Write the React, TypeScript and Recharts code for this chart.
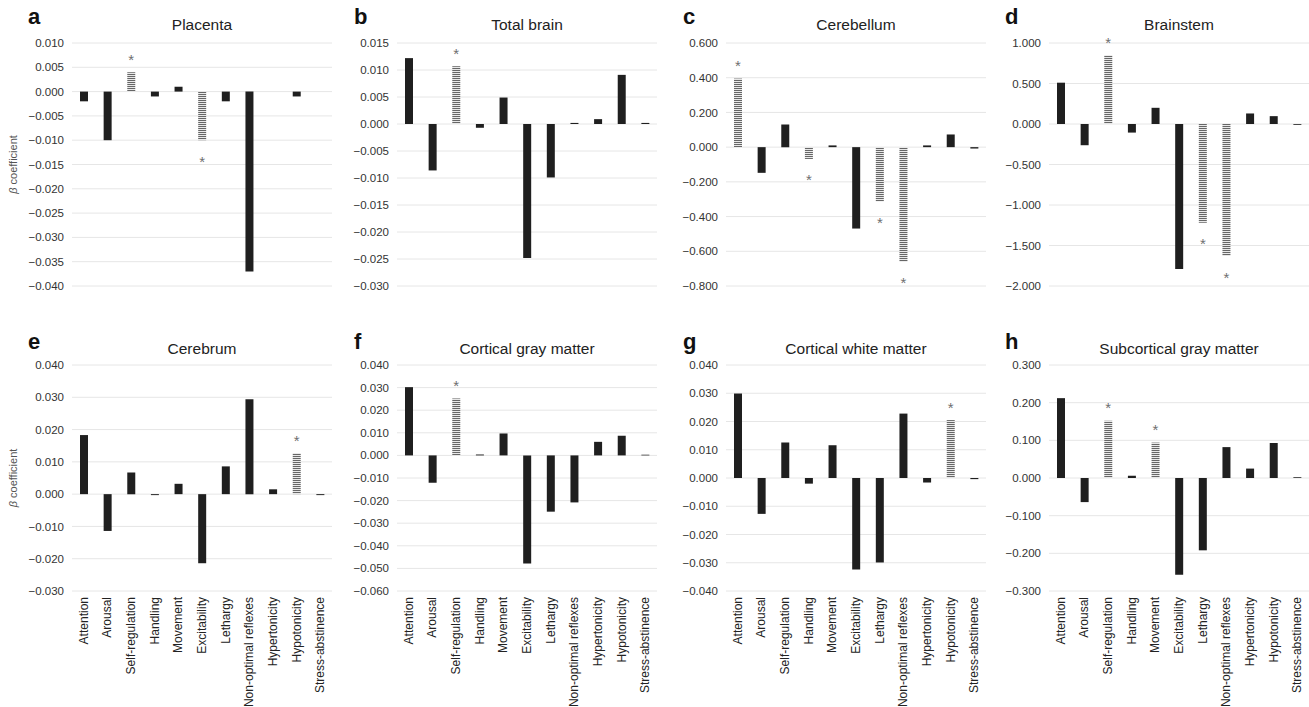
import React from 'react';
import { BarChart, Bar, XAxis, YAxis, CartesianGrid, Cell, LabelList } from 'recharts';

const categories = [
  'Attention', 'Arousal', 'Self-regulation', 'Handling', 'Movement', 'Excitability',
  'Lethargy', 'Non-optimal reflexes', 'Hypertonicity', 'Hypotonicity', 'Stress-abstinence',
];

const placentaValues = [-0.002, -0.010, 0.004, -0.001, 0.001, -0.010, -0.002, -0.037, 0, -0.001, 0];
const placentaSig = [0, 0, 1, 0, 0, 1, 0, 0, 0, 0, 0];
const placentaTicks = [0.010, 0.005, 0, -0.005, -0.010, -0.015, -0.020, -0.025, -0.030, -0.035, -0.040];

const totalBrainValues = [0.0122, -0.0086, 0.0107, -0.0007, 0.0049, -0.0248, -0.0099, 0.0002, 0.0009, 0.0091, 0.0002];
const totalBrainSig = [0, 0, 1, 0, 0, 0, 0, 0, 0, 0, 0];
const totalBrainTicks = [0.015, 0.010, 0.005, 0, -0.005, -0.010, -0.015, -0.020, -0.025, -0.030];

const cerebellumValues = [0.395, -0.148, 0.130, -0.068, 0.010, -0.469, -0.313, -0.660, 0.010, 0.073, -0.008];
const cerebellumSig = [1, 0, 0, 1, 0, 0, 1, 1, 0, 0, 0];
const cerebellumTicks = [0.6, 0.4, 0.2, 0, -0.2, -0.4, -0.6, -0.8];

const brainstemValues = [0.51, -0.262, 0.85, -0.106, 0.20, -1.79, -1.22, -1.63, 0.13, 0.097, -0.01];
const brainstemSig = [0, 0, 1, 0, 0, 0, 1, 1, 0, 0, 0];
const brainstemTicks = [1, 0.5, 0, -0.5, -1, -1.5, -2];

const cerebrumValues = [0.0183, -0.0114, 0.0067, -0.0003, 0.0032, -0.0214, 0.0086, 0.0294, 0.0015, 0.0127, -0.0003];
const cerebrumSig = [0, 0, 0, 0, 0, 0, 0, 0, 0, 1, 0];
const cerebrumTicks = [0.04, 0.03, 0.02, 0.01, 0, -0.01, -0.02, -0.03];

const corticalGrayValues = [0.0302, -0.0121, 0.0252, 0.0004, 0.0097, -0.0478, -0.0249, -0.0208, 0.0060, 0.0087, 0.0003];
const corticalGraySig = [0, 0, 1, 0, 0, 0, 0, 0, 0, 0, 0];
const corticalGrayTicks = [0.04, 0.03, 0.02, 0.01, 0, -0.01, -0.02, -0.03, -0.04, -0.05, -0.06];

const corticalWhiteValues = [0.0299, -0.0127, 0.0126, -0.0020, 0.0116, -0.0324, -0.0299, 0.0228, -0.0016, 0.0205, -0.0004];
const corticalWhiteSig = [0, 0, 0, 0, 0, 0, 0, 0, 0, 1, 0];
const corticalWhiteTicks = [0.04, 0.03, 0.02, 0.01, 0, -0.01, -0.02, -0.03, -0.04];

const subcorticalValues = [0.212, -0.064, 0.152, 0.006, 0.094, -0.257, -0.192, 0.082, 0.025, 0.093, 0.002];
const subcorticalSig = [0, 0, 1, 0, 1, 0, 0, 0, 0, 0, 0];
const subcorticalTicks = [0.3, 0.2, 0.1, 0, -0.1, -0.2, -0.3];

const FONT = '"Liberation Sans", Arial, Helvetica, sans-serif';
const PLOT_W = 260;
const AXIS_W = 66;

type PanelDef = {
  id: string;
  letter: string;
  title: string;
  values: number[];
  sig: number[];
  ticks: number[];
  row: number;
  col: number;
};

const panels: PanelDef[] = [
  { id: 'a', letter: 'a', title: 'Placenta', values: placentaValues, sig: placentaSig, ticks: placentaTicks, row: 0, col: 0 },
  { id: 'b', letter: 'b', title: 'Total brain', values: totalBrainValues, sig: totalBrainSig, ticks: totalBrainTicks, row: 0, col: 1 },
  { id: 'c', letter: 'c', title: 'Cerebellum', values: cerebellumValues, sig: cerebellumSig, ticks: cerebellumTicks, row: 0, col: 2 },
  { id: 'd', letter: 'd', title: 'Brainstem', values: brainstemValues, sig: brainstemSig, ticks: brainstemTicks, row: 0, col: 3 },
  { id: 'e', letter: 'e', title: 'Cerebrum', values: cerebrumValues, sig: cerebrumSig, ticks: cerebrumTicks, row: 1, col: 0 },
  { id: 'f', letter: 'f', title: 'Cortical gray matter', values: corticalGrayValues, sig: corticalGraySig, ticks: corticalGrayTicks, row: 1, col: 1 },
  { id: 'g', letter: 'g', title: 'Cortical white matter', values: corticalWhiteValues, sig: corticalWhiteSig, ticks: corticalWhiteTicks, row: 1, col: 2 },
  { id: 'h', letter: 'h', title: 'Subcortical gray matter', values: subcorticalValues, sig: subcorticalSig, ticks: subcorticalTicks, row: 1, col: 3 },
];

const colPlotLeft = [72, 397, 726, 1049];
const letterLeft = [28, 354, 683, 1005];
const rowLayout = [
  { top: 0, marginTop: 43, plotH: 243, bottom: 6, titleTop: 16, letterTop: 6 },
  { top: 310, marginTop: 55, plotH: 226, bottom: 125, titleTop: 340, letterTop: 331 },
];

const fmt = (v: number) => {
  const s = Math.abs(v).toFixed(3);
  return v < -1e-9 ? '\u2212' + s : s;
};

const CatTick = (props: any) => {
  const { x, y, payload } = props;
  return (
    <text
      x={x}
      y={y}
      dy={4}
      transform={`rotate(-90, ${x}, ${y})`}
      textAnchor="end"
      fontSize={12}
      fill="#222"
      fontFamily={FONT}
    >
      {payload.value}
    </text>
  );
};

const Panel = ({ p }: { p: PanelDef }) => {
  const layout = rowLayout[p.row];
  const plotLeft = colPlotLeft[p.col];
  const chartLeft = plotLeft - AXIS_W;
  const showX = p.row === 1;
  const height = layout.marginTop + layout.plotH + layout.bottom;
  const data = categories.map((c, i) => ({ cat: c, value: p.values[i], star: p.sig[i] ? '*' : '' }));
  const minT = Math.min(...p.ticks);
  const maxT = Math.max(...p.ticks);
  const patId = `stripes-${p.id}`;

  const starContent = (props: any) => {
    const vb = props.viewBox || props;
    const idx = props.index;
    const val = props.value;
    if (!val) return null;
    const x = vb.x;
    const y = vb.y;
    const w = vb.width;
    const h = vb.height;
    const top = Math.min(y, y + h);
    const bottom = Math.max(y, y + h);
    const positive = p.values[idx] >= 0;
    const cy = positive ? top - 16 : bottom + 18;
    return (
      <text x={x + w / 2} y={cy + 8.5} textAnchor="middle" fontSize={15} fill="#6f6f6f" fontFamily={FONT}>
        *
      </text>
    );
  };

  const yLabel =
    p.col === 0
      ? {
          content: (props: any) => {
            const vb = props.viewBox || { x: 0, y: layout.marginTop, height: layout.plotH };
            const cx = vb.x + 11;
            const cy = vb.y + vb.height / 2;
            return (
              <text
                x={cx}
                y={cy}
                transform={`rotate(-90, ${cx}, ${cy})`}
                textAnchor="middle"
                fontSize={11}
                fill="#555"
                fontFamily={FONT}
              >
                <tspan fontStyle="italic">β</tspan>
                <tspan> coefficient</tspan>
              </text>
            );
          },
        }
      : undefined;

  return (
    <>
      <div
        style={{
          position: 'absolute',
          left: letterLeft[p.col],
          top: layout.letterTop,
          fontSize: 22,
          lineHeight: '22px',
          fontWeight: 'bold',
          color: '#111',
          fontFamily: FONT,
        }}
      >
        {p.letter}
      </div>
      <div
        style={{
          position: 'absolute',
          left: plotLeft,
          width: PLOT_W,
          top: layout.titleTop,
          textAlign: 'center',
          fontSize: 15.5,
          lineHeight: '18px',
          color: '#222',
          fontFamily: FONT,
          whiteSpace: 'nowrap',
        }}
      >
        {p.title}
      </div>
      <div style={{ position: 'absolute', left: chartLeft, top: layout.top }}>
        <BarChart
          width={AXIS_W + PLOT_W}
          height={height}
          data={data}
          margin={{ top: layout.marginTop, right: 0, left: 0, bottom: showX ? 0 : layout.bottom }}
          barCategoryGap={0}
        >
          <defs>
            <pattern id={patId} patternUnits="userSpaceOnUse" width={4} height={2}>
              <rect x={0} y={0} width={4} height={2} fill="#ffffff" />
              <rect x={0} y={0} width={4} height={1.15} fill="#666666" />
            </pattern>
          </defs>
          <CartesianGrid vertical={false} stroke="#e6e6e6" strokeWidth={1} />
          <XAxis
            dataKey="cat"
            hide={!showX}
            height={showX ? layout.bottom : 0}
            interval={0}
            axisLine={false}
            tickLine={false}
            tickSize={6}
            tickMargin={0}
            tick={<CatTick />}
          />
          <YAxis
            type="number"
            domain={[minT, maxT]}
            ticks={p.ticks}
            allowDataOverflow
            width={AXIS_W}
            axisLine={false}
            tickLine={false}
            tickFormatter={fmt}
            tick={{ fontSize: 11.5, fill: '#333', fontFamily: FONT }}
            interval={0}
            label={yLabel as any}
          />
          <Bar dataKey="value" barSize={8} isAnimationActive={false}>
            {data.map((d, i) => (
              <Cell key={i} fill={p.sig[i] ? `url(#${patId})` : '#1f1f1f'} />
            ))}
            <LabelList dataKey="star" content={starContent} />
          </Bar>
        </BarChart>
      </div>
    </>
  );
}

export default function App() {
  return (
    <div
      style={{
        position: 'absolute',
        left: 0,
        top: 0,
        width: 1309,
        height: 707,
        background: '#ffffff',
        fontFamily: FONT,
        overflow: 'hidden',
      }}
    >
      {panels.map((p) => (
        <Panel key={p.id} p={p} />
      ))}
    </div>
  );
}
